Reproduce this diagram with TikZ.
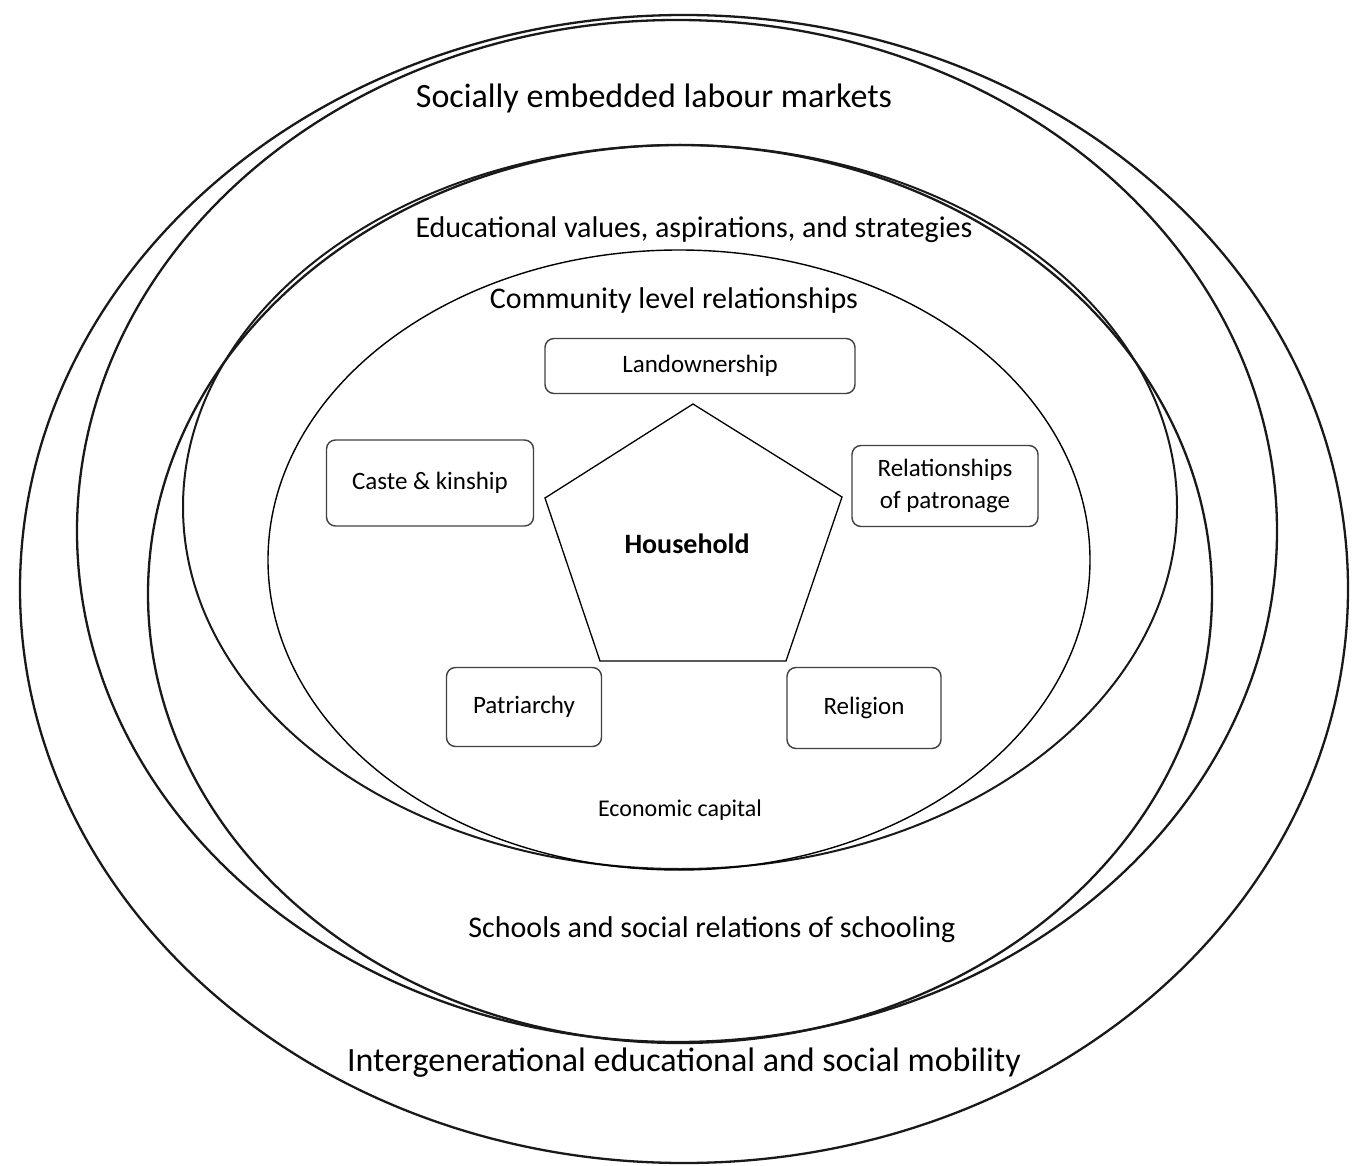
\documentclass[tikz,border=0pt]{standalone}
\usepackage{fontspec}
\setmainfont{Carlito}
\begin{document}
\begin{tikzpicture}[x=1pt,y=-1pt,
	ring/.style={line width=2.3pt,black!90},
	factor/.style={draw=black!75,line width=1.4pt,rounded corners=9pt,align=center,
		font=\fontsize{25}{32}\selectfont},
	layer/.style={font=\fontsize{30}{34}\selectfont}]
	\useasboundingbox (0,0) rectangle (1353,1166);
	\draw[ring] (684,589) ellipse[x radius=664,y radius=574];
	\draw[ring] (677,531) ellipse[x radius=600,y radius=511];
	\draw[ring] (680,594) ellipse[x radius=532,y radius=449];
	\draw[ring,line width=2pt] (680,507) ellipse[x radius=497,y radius=362];
	\draw[line width=1.4pt] (679,560) ellipse[x radius=411,y radius=310];
	\node[layer,font=\fontsize{34}{38}\selectfont] (labour) at (654,98) {Socially embedded labour markets};
	\node[layer] (values) at (694,230) {Educational values, aspirations, and strategies};
	\node[layer] (community) at (674,301) {Community level relationships};
	\node[layer] (schools) at (712,930) {Schools and social relations of schooling};
	\node[layer,font=\fontsize{34}{38}\selectfont] (mobility) at (684,1063) {Intergenerational educational and social mobility};
	\node[factor,minimum width=310pt,minimum height=55pt] (land) at (700,366) {Landownership};
	\node[factor,minimum width=207pt,minimum height=86pt] (caste) at (430,483) {Caste \& kinship};
	\node[factor,minimum width=186pt,minimum height=81pt] (patron) at (945,486) {Relationships\\of patronage};
	\node[factor,minimum width=155pt,minimum height=79pt] (patri) at (524,707) {Patriarchy};
	\node[factor,minimum width=154pt,minimum height=81pt] (relig) at (864,708) {Religion};
	\coordinate (p1) at (693,404);
	\coordinate (p2) at (842,497);
	\coordinate (p3) at (786,661);
	\coordinate (p4) at (600,661);
	\coordinate (p5) at (545,498);
	\draw[line width=1.3pt] (p1)--(p2)--(p3)--(p4)--(p5)--cycle;
	\node[font=\bfseries\fontsize{28}{32}\selectfont] (house) at (687,544) {Household};
	\node[font=\fontsize{24}{28}\selectfont] (capital) at (680,810) {Economic capital};
\end{tikzpicture}
\end{document}
